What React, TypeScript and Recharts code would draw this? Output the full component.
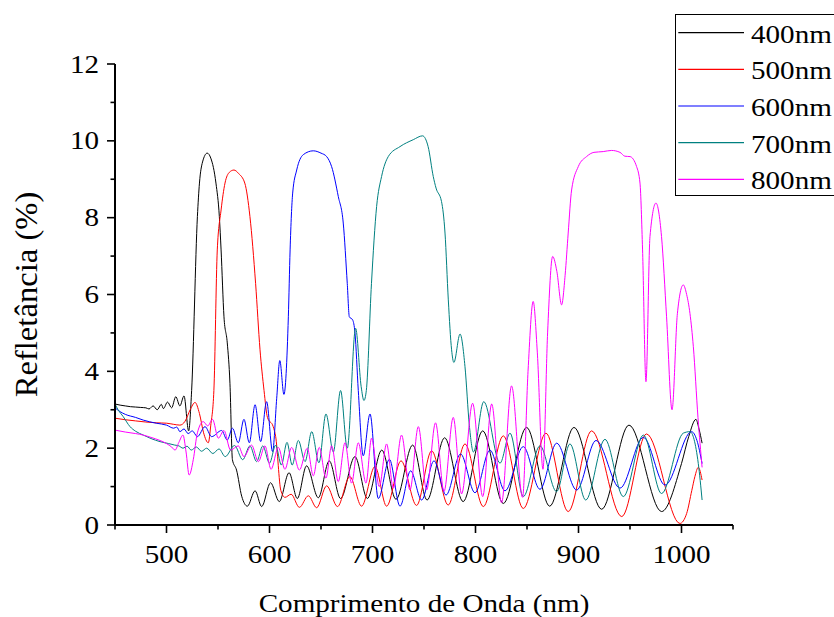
import React from 'react';
import { LineChart, Line, XAxis, YAxis, Legend, Label } from 'recharts';

const seriesNames = ['400nm', '500nm', '600nm', '700nm', '800nm'];
const seriesColors = ['#000000', '#ff0000', '#0000ff', '#008080', '#ff00ff'];
const xTicks = [450, 500, 550, 600, 650, 700, 750, 800, 850, 900, 950, 1000, 1050];
const xLabelTicks = [500, 600, 700, 800, 900, 1000];
const yTicks = [0, 1, 2, 3, 4, 5, 6, 7, 8, 9, 10, 11, 12];
const yLabelTicks = [0, 2, 4, 6, 8, 10, 12];

// [wavelength nm, reflectance %]
const s400: [number, number][] = [
  [450, 3.15], [455, 3.12], [460, 3.1], [465, 3.08], [470, 3.07], [475, 3.06], [480, 3.05], [483, 3.02],
  [487, 3.1], [491, 3.0], [495, 3.14], [497, 3.03], [501, 3.2], [505, 3.05], [509, 3.34], [513, 3.1],
  [517, 3.36], [521.5, 2.45], [524.4, 3.5], [530, 8.03], [532, 8.9], [535, 9.45], [539.5, 9.68],
  [543, 9.55], [548, 8.9], [551.3, 8.03], [553, 7.16], [555.8, 5.42], [559, 4.74], [561.6, 3.69],
  [564, 1.7], [568, 1.43], [573, 0.75], [578.5, 0.49], [586, 0.89], [592.4, 0.48], [601, 1.1],
  [609.5, 0.61], [619, 1.36], [627, 0.69], [636, 1.54], [647.4, 0.71], [658, 1.67], [669, 0.69],
  [683, 1.78], [695, 0.69], [709, 1.95], [722.8, 0.67], [739, 2.08], [753, 0.65], [770, 2.27],
  [788, 0.61], [807, 2.45], [827, 0.56], [849.6, 2.54], [872, 0.49], [895.6, 2.54], [922.5, 0.41],
  [949, 2.6], [980.7, 0.35], [1000, 1.6], [1007, 2.3], [1014, 2.75], [1017, 2.5], [1020, 2.13],
];

const s500: [number, number][] = [
  [450, 2.78], [460, 2.74], [470, 2.71], [480, 2.68], [490, 2.66], [500, 2.65], [507, 2.62], [513, 2.6],
  [518, 2.7], [523, 3.0], [527.7, 3.19], [532, 2.9], [536, 2.4], [540.6, 2.14], [543, 2.6], [546, 3.5],
  [549.3, 7.16], [553, 8.2], [556.8, 8.9], [561, 9.18], [565.5, 9.24], [570, 9.15], [576, 8.9],
  [581, 8.03], [586.5, 6.29], [590.8, 4.56], [594.7, 3.5], [598, 2.8], [603.6, 2.56], [606, 2.3],
  [611, 0.9], [615, 0.72], [621, 0.8], [629, 0.46], [637.7, 0.76], [645.8, 0.45], [655.5, 1.02],
  [666, 0.48], [678, 1.26], [689.4, 0.49], [702.4, 1.52], [713.7, 0.49], [727.7, 1.67], [742.8, 0.51],
  [757.4, 1.93], [773.5, 0.52], [789.8, 2.11], [807.6, 0.48], [827, 2.32], [846.4, 0.43], [868.4, 2.39],
  [890, 0.35], [912.7, 2.45], [942, 0.22], [966, 2.37], [998.5, 0.04], [1005, 0.3], [1010, 0.9],
  [1013, 1.26], [1016.3, 1.5], [1020, 1.17],
];

const s600: [number, number][] = [
  [450, 3.05], [455, 2.95], [460, 2.88], [470, 2.8], [477.5, 2.73], [490, 2.65], [500, 2.6], [507, 2.52],
  [510, 2.55], [513, 2.43], [517, 2.5], [521, 2.38], [525, 2.45], [530, 2.3], [537.4, 2.56], [543.8, 2.3],
  [553.5, 2.46], [559, 2.21], [564, 2.52], [569.7, 2.14], [575.2, 2.75], [580.4, 2.14], [586, 3.13],
  [591.4, 2.17], [597.2, 3.21], [603, 1.91], [607, 3.3], [610, 4.28], [614, 3.4], [618.3, 5.42],
  [620, 7.16], [622.5, 8.64], [626.4, 9.24], [632.8, 9.64], [642.5, 9.74], [650, 9.68], [655.5, 9.59],
  [660.3, 9.33], [666.8, 8.55], [671.6, 7.86], [675.5, 6.29], [677.5, 5.42], [680.7, 5.34], [683, 5.0],
  [686.2, 3.5], [691, 1.8], [697.6, 2.89], [705.6, 0.69], [716.4, 1.71], [726.7, 0.49], [737, 1.41],
  [747.7, 0.65], [759.7, 1.67], [771.4, 0.78], [785.5, 1.85], [799.5, 0.84], [814, 1.95], [828.6, 0.89],
  [846.4, 2.04], [862.6, 0.93], [878.8, 2.13], [898.2, 0.91], [917, 2.2], [940.3, 0.96], [963, 2.28],
  [984, 1.04], [1009.8, 2.43], [1015, 2.2], [1020, 1.6],
];

const s700: [number, number][] = [
  [450, 3.15], [453, 3.0], [458, 2.82], [464.6, 2.56], [470, 2.44], [477.5, 2.34], [485, 2.25],
  [493.7, 2.17], [502, 2.12], [508, 2.08], [512, 2.06], [516, 2.0], [520, 2.05], [524, 1.95], [529, 2.03],
  [534, 1.92], [539, 2.0], [545, 1.86], [551, 1.98], [557, 1.78], [566, 2.07], [574, 1.7], [581, 2.06],
  [587.5, 1.65], [593.5, 2.06], [600, 1.61], [606, 2.08], [611.5, 1.56], [617, 2.15], [622, 1.56],
  [628, 2.2], [634.5, 1.65], [641, 2.43], [648, 1.62], [654.8, 2.89], [662, 1.9], [669, 3.5],
  [675.5, 2.0], [683.6, 5.12], [689, 3.6], [691.7, 3.24], [694, 3.5], [699, 6.29], [704, 8.29],
  [708.8, 9.07], [715.3, 9.59], [726.7, 9.85], [739.6, 10.03], [748.6, 10.13], [754, 9.85], [759, 9.07],
  [761.7, 8.77], [767, 8.42], [770.4, 7.6], [773.6, 5.86], [776.8, 4.56], [779, 4.23], [785, 4.97],
  [789.8, 4.12], [794, 2.6], [798, 1.9], [808, 3.21], [823.8, 1.61], [833.5, 2.39], [846.4, 0.74],
  [862.6, 2.06], [878.7, 0.87], [891.7, 2.11], [907, 0.65], [925.7, 2.23], [943.5, 0.74], [963, 2.34],
  [980.6, 0.82], [1001.7, 2.39], [1008.2, 2.43], [1016.3, 1.6], [1020, 0.65],
];

const s800: [number, number][] = [
  [450, 2.47], [460, 2.42], [470, 2.38], [477.5, 2.34], [485, 2.28], [493.7, 2.2], [500, 2.12],
  [505, 2.03], [508.3, 1.95], [512, 2.15], [516, 2.34], [519, 1.9], [522, 1.3], [526, 1.7], [530, 2.4],
  [535.7, 2.69], [540, 2.58], [544.7, 2.75], [550.3, 2.26], [555.8, 2.46], [562.2, 1.95], [569.7, 2.06],
  [575.2, 1.78], [582.6, 2.08], [589.2, 1.65], [595.6, 2.06], [601.5, 1.45], [608.6, 2.02], [615, 1.45],
  [621.5, 2.02], [629, 1.43], [636.7, 2.0], [642.5, 1.28], [648.3, 2.02], [654.8, 1.22], [660.3, 2.06],
  [666.8, 1.13], [673.3, 2.14], [679.7, 1.09], [686.2, 2.14], [693.7, 1.09], [699.1, 2.26], [706.6, 1.0],
  [713.7, 2.11], [720.2, 0.96], [728.2, 2.34], [736.4, 0.91], [744.5, 2.56], [752.5, 0.91], [761.2, 2.66],
  [769.4, 0.87], [778.4, 2.8], [786.5, 0.81], [797.2, 3.17], [807, 0.74], [815.7, 3.15], [825.3, 0.58],
  [835, 3.62], [845.7, 0.72], [851, 4.0], [856, 5.82], [860, 4.5], [865.5, 1.45], [870, 5.0],
  [874.9, 6.99], [879, 6.6], [883.6, 5.73], [887, 6.5], [890, 7.6], [893.3, 8.72], [899.8, 9.33],
  [907.8, 9.59], [915, 9.7], [924, 9.72], [932, 9.75], [940.3, 9.7], [945, 9.6], [950, 9.59],
  [956.4, 9.33], [959.7, 8.9], [962.2, 7.16], [965.5, 3.73], [969.4, 7.51], [975.2, 8.38], [980.6, 7.51],
  [985.5, 5.42], [990.8, 3.0], [996, 5.5], [1001.7, 6.25], [1005, 6.0], [1008.2, 5.51], [1011.5, 4.64],
  [1016, 2.8], [1020, 1.5],
];

const seriesData = [s400, s500, s600, s700, s800];

const FONT = '"Liberation Serif", "Times New Roman", Times, serif';
const SX = 1.12;
const FS = 26;

const toPts = (arr: [number, number][]) => arr.map(([x, y]) => ({ x, y }));

const XTick = (props: any) => {
  const { x, y, payload } = props;
  const v = payload.value;
  const major = xLabelTicks.includes(v);
  return (
    <g>
      <line x1={x} y1={y} x2={x} y2={y + (major ? 8 : 4.5)} stroke="#000" strokeWidth={1.6} />
      {major && (
        <text transform={`translate(${x},${y + 38}) scale(${SX},1)`} textAnchor="middle" fontFamily={FONT} fontSize={FS} fill="#000">
          {v}
        </text>
      )}
    </g>
  );
};

const YTick = (props: any) => {
  const { x, y, payload } = props;
  const v = payload.value;
  const major = yLabelTicks.includes(v);
  return (
    <g>
      <line x1={x - (major ? 8 : 4.5)} y1={y} x2={x} y2={y} stroke="#000" strokeWidth={1.6} />
      {major && (
        <text transform={`translate(${x - 16},${y + 8.5}) scale(${SX},1)`} textAnchor="end" fontFamily={FONT} fontSize={FS} fill="#000">
          {v}
        </text>
      )}
    </g>
  );
};

const XTitle = (props: any) => {
  const vb = props.viewBox || { x: 115, y: 525, width: 618 };
  return (
    <text transform={`translate(${vb.x + vb.width / 2},${vb.y + 87}) scale(${SX},1)`} textAnchor="middle" fontFamily={FONT} fontSize={FS} fill="#000">
      Comprimento de Onda (nm)
    </text>
  );
};

const YTitle = (props: any) => {
  const vb = props.viewBox || { x: 114, y: 64, width: 1, height: 461 };
  return (
    <text transform={`translate(${vb.x + vb.width - 78},${vb.y + vb.height / 2}) rotate(-90) scale(1.02,1)`} textAnchor="middle" fontFamily={FONT} fontSize={32} fill="#000">
      Refletância (%)
    </text>
  );
};

const LegendBox = () => (
  <svg width={200} height={183} style={{ display: 'block' }}>
    <rect x={0.5} y={0.5} width={220} height={181} fill="none" stroke="#000" strokeWidth={1} />
    {seriesNames.map((n, i) => {
      const cy = 18.7 + i * 36.65;
      return (
        <g key={n}>
          <line x1={3.3} y1={cy} x2={69} y2={cy} stroke={seriesColors[i]} strokeWidth={1.2} />
          <text transform={`translate(76,${cy + 10}) scale(${SX},1)`} fontFamily={FONT} fontSize={FS} fill="#000">
            {n}
          </text>
        </g>
      );
    })}
  </svg>
);

export default function App() {
  return (
    <div style={{ position: 'absolute', left: 0, top: 0, width: 834, height: 617, overflow: 'hidden', background: '#fff' }}>
      <LineChart width={834} height={617} margin={{ top: 64, right: 101, bottom: 91, left: 114 }}>
        <XAxis
          type="number"
          dataKey="x"
          domain={[450, 1050]}
          ticks={xTicks}
          interval={0}
          allowDataOverflow
          height={1}
          tickSize={0}
          tickMargin={0}
          tickLine={false}
          tick={<XTick />}
          axisLine={{ stroke: '#000', strokeWidth: 2 }}
        >
          <Label content={<XTitle />} />
        </XAxis>
        <YAxis
          type="number"
          dataKey="y"
          domain={[0, 12]}
          ticks={yTicks}
          interval={0}
          allowDataOverflow
          width={1}
          tickSize={0}
          tickMargin={0}
          tickLine={false}
          tick={<YTick />}
          axisLine={{ stroke: '#000', strokeWidth: 2 }}
        >
          <Label content={<YTitle />} />
        </YAxis>
        <Legend
          layout="vertical"
          align="center"
          verticalAlign="middle"
          content={<LegendBox />}
          wrapperStyle={{ left: 675, top: 14, width: 200, height: 183, margin: 0, padding: 0 }}
        />
        {seriesData.map((d, i) => (
          <Line
            key={seriesNames[i]}
            name={seriesNames[i]}
            data={toPts(d)}
            dataKey="y"
            type="monotone"
            stroke={seriesColors[i]}
            strokeWidth={1}
            dot={false}
            activeDot={false}
            isAnimationActive={false}
          />
        ))}
      </LineChart>
    </div>
  );
}
